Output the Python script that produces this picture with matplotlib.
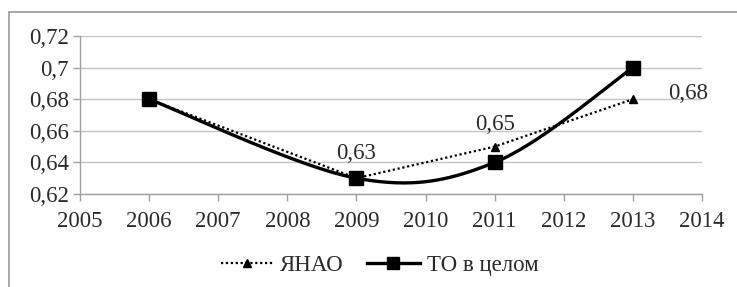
import numpy as np
import matplotlib
matplotlib.use("Agg")
import matplotlib.pyplot as plt
from matplotlib.patches import Rectangle

years = [2006, 2009, 2011, 2013]
yanao = [0.68, 0.63, 0.65, 0.68]
to_total = [0.68, 0.63, 0.64, 0.70]
yanao_labels = ["0,63", "0,65", "0,68"]
label_years = [2009, 2011, 2013]
label_vals = [0.63, 0.65, 0.68]
yticks = [0.62, 0.64, 0.66, 0.68, 0.70, 0.72]
ytick_labels = ["0,62", "0,64", "0,66", "0,68", "0,7", "0,72"]
xticks = list(range(2005, 2015))

plt.rcParams['font.family'] = ['Liberation Serif', 'DejaVu Serif']
TXT = '#2a2a2a'


def smooth(xs, ys, n=60):
    """Excel-like smoothed line (Catmull-Rom Bezier)."""
    P = np.column_stack([xs, ys]).astype(float)
    out = []
    for i in range(len(P) - 1):
        p0 = P[i - 1] if i > 0 else P[i]
        p1 = P[i]
        p2 = P[i + 1]
        p3 = P[i + 2] if i + 2 < len(P) else P[i + 1]
        c1 = p1 + (p2 - p0) / 6.0
        c2 = p2 - (p3 - p1) / 6.0
        t = np.linspace(0, 1, n)[:, None]
        seg = ((1 - t) ** 3) * p1 + 3 * ((1 - t) ** 2) * t * c1 + 3 * (1 - t) * t ** 2 * c2 + t ** 3 * p2
        out.append(seg if i == 0 else seg[1:])
    a = np.vstack(out)
    return a[:, 0], a[:, 1]


fig = plt.figure(figsize=(7.37, 2.87), dpi=100)
fig.patch.set_facecolor('white')
fig.add_artist(Rectangle((9 / 737, -0.1), 1.2, 1 - 12 / 287 + 0.1, transform=fig.transFigure,
                         fill=False, edgecolor='#9a9a9a', linewidth=1.2))

ax = fig.add_axes([80 / 737, 1 - 194 / 287, (702 - 80) / 737, (194 - 36) / 287])
ax.set_xlim(2005, 2014)
ax.set_ylim(0.62, 0.72)
ax.set_yticks(yticks)
ax.set_yticklabels(ytick_labels)
ax.set_xticks(xticks)
ax.set_xticklabels([str(x) for x in xticks])
ax.tick_params(axis='both', labelsize=16.5, colors='#a0a0a0', labelcolor=TXT,
               direction='out', length=5, width=1)
ax.tick_params(axis='x', pad=7)
ax.tick_params(axis='y', pad=3)
ax.grid(axis='y', color='#c4c4c4', linewidth=1)
ax.set_axisbelow(True)
for s in ['top', 'right']:
    ax.spines[s].set_visible(False)
for s in ['left', 'bottom']:
    ax.spines[s].set_color('#a0a0a0')
    ax.spines[s].set_linewidth(1)

ax.plot(years, yanao, linestyle=(0, (1, 1.2)), color='black', linewidth=1.6,
        marker='^', markersize=6, label='ЯНАО', zorder=3)
sx, sy = smooth(years, to_total)
ax.plot(sx, sy, color='black', linewidth=2.4, zorder=4)
ax.plot(years, to_total, linestyle='none', marker='s', markersize=10, color='black', zorder=5)
ax.plot([], [], color='black', linewidth=2.4, marker='s', markersize=9, label='ТО в целом')

offsets = [(0, 18), (0, 16), (40, 4)]
for x, v, t, off in zip(label_years, label_vals, yanao_labels, offsets):
    ax.annotate(t, (x, v), xytext=off, textcoords='offset points', ha='center', va='center',
                fontsize=16.5, color=TXT)

handles, labels = ax.get_legend_handles_labels()
fig.legend(handles, labels, loc='center', bbox_to_anchor=(0.515, 0.075), ncol=2, frameon=False,
           fontsize=16.5, handlelength=2.3, columnspacing=1.0, handletextpad=0.3, labelcolor=TXT)

fig.savefig('out.png', dpi=100, facecolor='white')
